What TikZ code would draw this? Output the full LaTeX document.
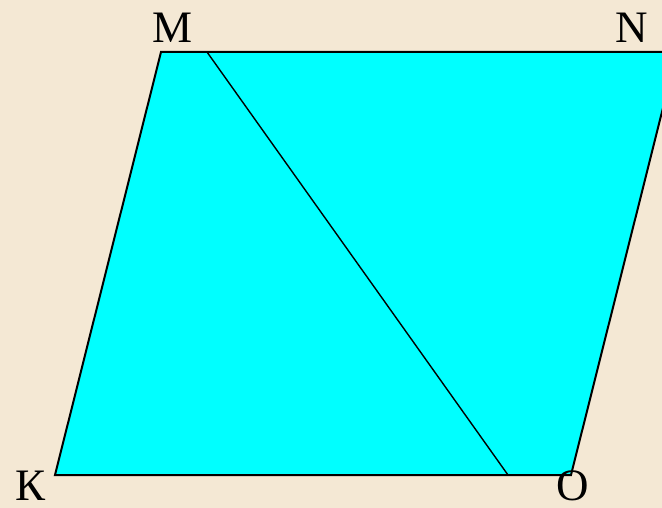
\documentclass[tikz,border=0pt]{standalone}
\usepackage{fontspec}
\setmainfont{Liberation Serif}
\usepackage{xcolor}
\usetikzlibrary{positioning,calc}
\definecolor{parchment}{HTML}{F4E8D4}
\definecolor{facecyan}{HTML}{00FFFF}

\begin{document}
\begin{tikzpicture}[
    x=1pt, y=-1pt,
    vertex/.style={font=\fontsize{45}{45}\selectfont, inner sep=0pt},
    edge/.style={draw=black, line width=2pt, line join=miter},
    cut/.style={draw=black, line width=1.4pt}
  ]
    \useasboundingbox (0,0) rectangle (662,508);
    \fill[parchment] (0,0) rectangle (662,508);
    \clip (0,0) rectangle (662,508);

    \coordinate (k) at (55,475);
    \coordinate (m) at (161,52);
    \coordinate (n) at (677,52);
    \coordinate (o) at (571,475);
    \coordinate (top) at (207,52);
    \coordinate (bottom) at (508,475);

    \filldraw[facecyan, edge] (k) -- (m) -- (n) -- (o) -- cycle;
    \draw[cut] (top) -- (bottom);

    \node[vertex] (labelM) at (173,28) {M};
    \node[vertex] (labelN) at (632,28) {N};
    \node[vertex] (labelK) at (31,486) {К};
    \node[vertex] (labelO) at (573,486) {O};
  \end{tikzpicture}
\end{document}
